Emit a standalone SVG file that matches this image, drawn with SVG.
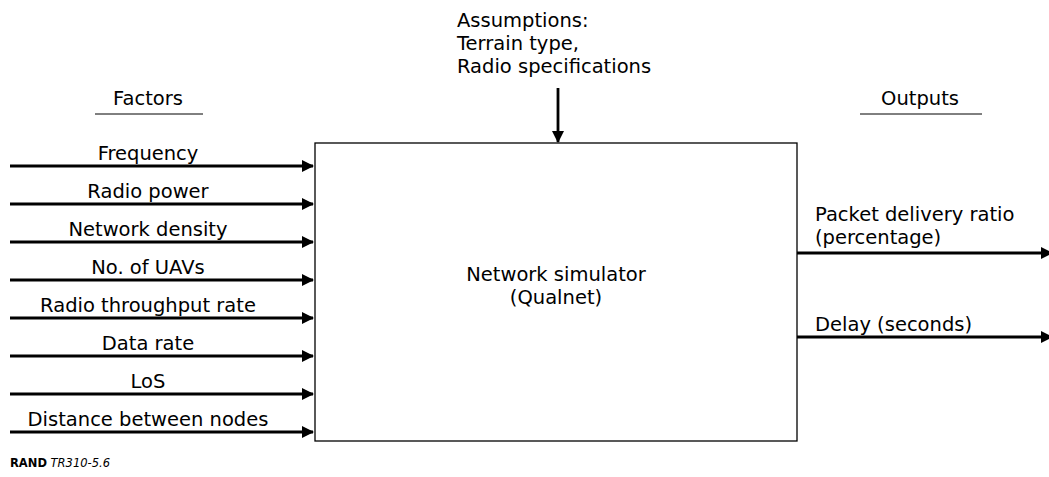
<svg xmlns="http://www.w3.org/2000/svg" width="1049" height="477" viewBox="0 0 1049 477">
<defs>
<marker id="ah" markerWidth="12" markerHeight="12" viewBox="0 0 12 12" refX="11" refY="6" orient="auto" markerUnits="userSpaceOnUse">
<path d="M0,0 L12,6 L0,12 Z" fill="#000"/>
</marker>
</defs>
<style>
text{font-family:"DejaVu Sans","Open Sans",sans-serif;font-size:19.5px;fill:#000}
.c{text-anchor:middle}
.ln{stroke:#000;stroke-width:2.8;fill:none}
.ul{stroke:#000;stroke-width:1}
.ft{font-size:11.5px}
</style>
<rect width="1049" height="477" fill="#fff"/>
<g id="headers">
<text class="c" x="148" y="105">Factors</text>
<line class="ul" x1="95" y1="114" x2="203" y2="114"/>
<text class="c" x="920" y="105">Outputs</text>
<line class="ul" x1="860" y1="114" x2="982" y2="114"/>
</g>
<g id="assumptions">
<text x="457" y="27">Assumptions:</text>
<text x="457" y="50">Terrain type,</text>
<text x="457" y="73">Radio specifications</text>
</g>
<g id="simulator">
<rect x="315" y="143" width="482" height="298" fill="#fff" stroke="#000" stroke-width="1.3"/>
<text class="c" x="556" y="281">Network simulator</text>
<text class="c" x="556" y="304">(Qualnet)</text>
</g>
<g id="connectors">
<line class="ln" x1="558" y1="88" x2="558" y2="142" marker-end="url(#ah)"/>
<line class="ln" x1="10" y1="166" x2="313" y2="166" marker-end="url(#ah)"/>
<line class="ln" x1="10" y1="204" x2="313" y2="204" marker-end="url(#ah)"/>
<line class="ln" x1="10" y1="242" x2="313" y2="242" marker-end="url(#ah)"/>
<line class="ln" x1="10" y1="280" x2="313" y2="280" marker-end="url(#ah)"/>
<line class="ln" x1="10" y1="318" x2="313" y2="318" marker-end="url(#ah)"/>
<line class="ln" x1="10" y1="356" x2="313" y2="356" marker-end="url(#ah)"/>
<line class="ln" x1="10" y1="394" x2="313" y2="394" marker-end="url(#ah)"/>
<line class="ln" x1="10" y1="432" x2="313" y2="432" marker-end="url(#ah)"/>
<line class="ln" x1="797" y1="253" x2="1052" y2="253" marker-end="url(#ah)"/>
<line class="ln" x1="797" y1="337" x2="1052" y2="337" marker-end="url(#ah)"/>
</g>
<g id="factor-labels">
<text class="c" x="148" y="160">Frequency</text>
<text class="c" x="148" y="198">Radio power</text>
<text class="c" x="148" y="236">Network density</text>
<text class="c" x="148" y="274">No. of UAVs</text>
<text class="c" x="148" y="312">Radio throughput rate</text>
<text class="c" x="148" y="350">Data rate</text>
<text class="c" x="148" y="388">LoS</text>
<text class="c" x="148" y="426">Distance between nodes</text>
</g>
<g id="output-labels">
<text x="815" y="221">Packet delivery ratio</text>
<text x="815" y="244">(percentage)</text>
<text x="815" y="331">Delay (seconds)</text>
</g>
<g id="footer">
<text class="ft" x="10" y="467"><tspan font-weight="bold">RAND</tspan> <tspan font-style="italic">TR310-5.6</tspan></text>
</g>
</svg>
